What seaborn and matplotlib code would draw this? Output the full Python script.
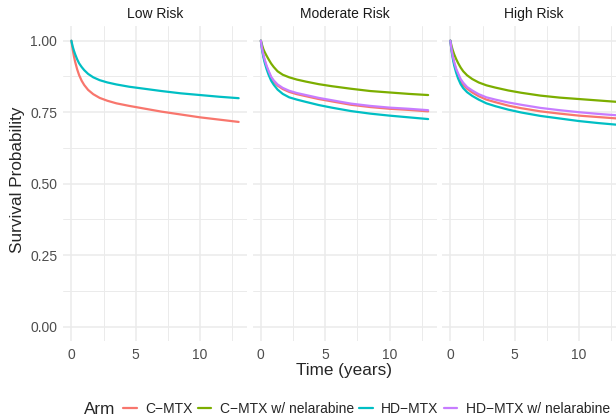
import pandas as pd
import matplotlib
matplotlib.use('Agg')
import matplotlib.pyplot as plt
from matplotlib.lines import Line2D
import seaborn as sns

sns.set_style('white')
plt.rcParams['font.family'] = ['Liberation Sans', 'DejaVu Sans']

# Datos (tiempo en años, probabilidad de supervivencia)
time = [0, 0.05, 0.1, 0.2, 0.3, 0.45, 0.6, 0.8, 1.0, 1.3, 1.7,
        2.2, 2.8, 3.5, 4.5, 5.5, 7, 8.5, 10, 11.5, 13]

risk_groups = ['Low Risk', 'Moderate Risk', 'High Risk']
arms = ['C\u2212MTX', 'C\u2212MTX w/ nelarabine', 'HD\u2212MTX', 'HD\u2212MTX w/ nelarabine']
colors = ['#F8766D', '#7CAE00', '#00BFC4', '#C77CFF']

low_cmtx = [1.000, 0.985, 0.970, 0.945, 0.925, 0.900, 0.880, 0.860, 0.845, 0.828, 0.813,
            0.800, 0.790, 0.781, 0.772, 0.764, 0.752, 0.742, 0.732, 0.724, 0.716]
low_hdmtx = [1.000, 0.990, 0.980, 0.965, 0.952, 0.935, 0.921, 0.908, 0.897, 0.884, 0.872,
             0.862, 0.854, 0.847, 0.839, 0.833, 0.824, 0.816, 0.810, 0.804, 0.799]

mod_cmtx = [1.000, 0.984, 0.970, 0.947, 0.930, 0.908, 0.891, 0.870, 0.857, 0.843, 0.831,
            0.821, 0.813, 0.806, 0.796, 0.788, 0.776, 0.768, 0.762, 0.758, 0.753]
mod_cmtx_nel = [1.000, 0.992, 0.984, 0.970, 0.960, 0.947, 0.935, 0.920, 0.908, 0.893, 0.881,
                0.872, 0.864, 0.857, 0.848, 0.841, 0.832, 0.824, 0.819, 0.814, 0.810]
mod_hdmtx = [1.000, 0.982, 0.966, 0.942, 0.923, 0.900, 0.881, 0.860, 0.846, 0.829, 0.814,
             0.802, 0.794, 0.786, 0.775, 0.766, 0.754, 0.745, 0.738, 0.732, 0.726]
mod_hdmtx_nel = [1.000, 0.985, 0.972, 0.950, 0.933, 0.912, 0.895, 0.874, 0.861, 0.847, 0.835,
                 0.825, 0.817, 0.810, 0.800, 0.792, 0.780, 0.772, 0.766, 0.762, 0.757]

high_cmtx = [1.000, 0.982, 0.966, 0.941, 0.921, 0.898, 0.879, 0.859, 0.845, 0.832, 0.819,
             0.806, 0.794, 0.785, 0.773, 0.764, 0.753, 0.745, 0.738, 0.733, 0.728]
high_cmtx_nel = [1.000, 0.990, 0.980, 0.965, 0.952, 0.936, 0.922, 0.906, 0.893, 0.879, 0.866,
                 0.854, 0.844, 0.836, 0.826, 0.818, 0.808, 0.801, 0.796, 0.791, 0.786]
high_hdmtx = [1.000, 0.980, 0.962, 0.935, 0.913, 0.888, 0.868, 0.848, 0.834, 0.820, 0.807,
              0.794, 0.781, 0.771, 0.759, 0.749, 0.737, 0.728, 0.719, 0.712, 0.706]
high_hdmtx_nel = [1.000, 0.983, 0.968, 0.944, 0.925, 0.902, 0.886, 0.866, 0.853, 0.838, 0.826,
                  0.813, 0.802, 0.794, 0.784, 0.776, 0.765, 0.757, 0.750, 0.744, 0.739]

series = {
    ('Low Risk', arms[0]): low_cmtx,
    ('Low Risk', arms[2]): low_hdmtx,
    ('Moderate Risk', arms[0]): mod_cmtx,
    ('Moderate Risk', arms[1]): mod_cmtx_nel,
    ('Moderate Risk', arms[2]): mod_hdmtx,
    ('Moderate Risk', arms[3]): mod_hdmtx_nel,
    ('High Risk', arms[0]): high_cmtx,
    ('High Risk', arms[1]): high_cmtx_nel,
    ('High Risk', arms[2]): high_hdmtx,
    ('High Risk', arms[3]): high_hdmtx_nel,
}

rows = []
for (risk, arm), vals in series.items():
    for t, s in zip(time, vals):
        rows.append({'Risk': risk, 'Arm': arm, 'Time': t, 'Survival': s})
df = pd.DataFrame(rows)

palette = dict(zip(arms, colors))

# Figura en píxeles: 616 x 417
W, H = 616, 417
fig = plt.figure(figsize=(W / 100, H / 100), dpi=100)

panel_left = [63, 252.5, 442]
panel_w = 184
panel_top = 26.4
panel_h = 314.6

tick_fs = 10
title_fs = 12.3
grid_col = '#EBEBEB'

for i, risk in enumerate(risk_groups):
    ax = fig.add_axes([panel_left[i] / W, 1 - (panel_top + panel_h) / H,
                       panel_w / W, panel_h / H])
    sub = df[df['Risk'] == risk]
    sns.lineplot(data=sub, x='Time', y='Survival', hue='Arm',
                 hue_order=[a for a in arms if a in sub['Arm'].unique()],
                 palette=palette, linewidth=1.6, estimator=None,
                 legend=False, ax=ax)
    ax.set_xlim(-0.65, 13.65)
    ax.set_ylim(-0.05, 1.05)
    ax.set_xticks([0, 5, 10])
    ax.set_xticks([2.5, 7.5, 12.5], minor=True)
    ax.set_yticks([0, 0.25, 0.5, 0.75, 1.0])
    ax.set_yticks([0.125, 0.375, 0.625, 0.875], minor=True)
    ax.grid(True, which='major', color=grid_col, linewidth=1.1)
    ax.grid(True, which='minor', color=grid_col, linewidth=0.7)
    ax.set_axisbelow(True)
    for sp in ax.spines.values():
        sp.set_visible(False)
    ax.tick_params(which='both', length=0, labelsize=tick_fs, labelcolor='#4D4D4D')
    ax.tick_params(axis='x', pad=4.7)
    ax.tick_params(axis='y', pad=4.1)
    if i == 0:
        ax.set_yticklabels(['0.00', '0.25', '0.50', '0.75', '1.00'])
    else:
        ax.set_yticklabels([])
    ax.set_xlabel('')
    ax.set_ylabel('')
    fig.text((panel_left[i] + panel_w / 2) / W, 1 - 18 / H, risk,
             ha='center', va='baseline', fontsize=tick_fs, color='#1A1A1A')

fig.text((252.5 + panel_w / 2) / W, 1 - 374.5 / H, 'Time (years)',
         ha='center', va='baseline', fontsize=title_fs)
fig.text(18 / W, 1 - 180 / H, 'Survival Probability', rotation=90,
         ha='center', va='center', fontsize=title_fs)

# Leyenda inferior
handles = [Line2D([], [], color=c, linewidth=1.6) for c in colors]
fig.text(84 / W, 1 - 409 / H, 'Arm', ha='left', va='center', fontsize=title_fs)
fig.legend(handles, arms, loc='center left', bbox_to_anchor=(123 / W, 1 - 409 / H),
           ncol=4, frameon=False, fontsize=tick_fs, handlelength=1.0,
           handletextpad=0.6, columnspacing=0.36, borderpad=0, borderaxespad=0)

fig.savefig('out.png', dpi=100)
